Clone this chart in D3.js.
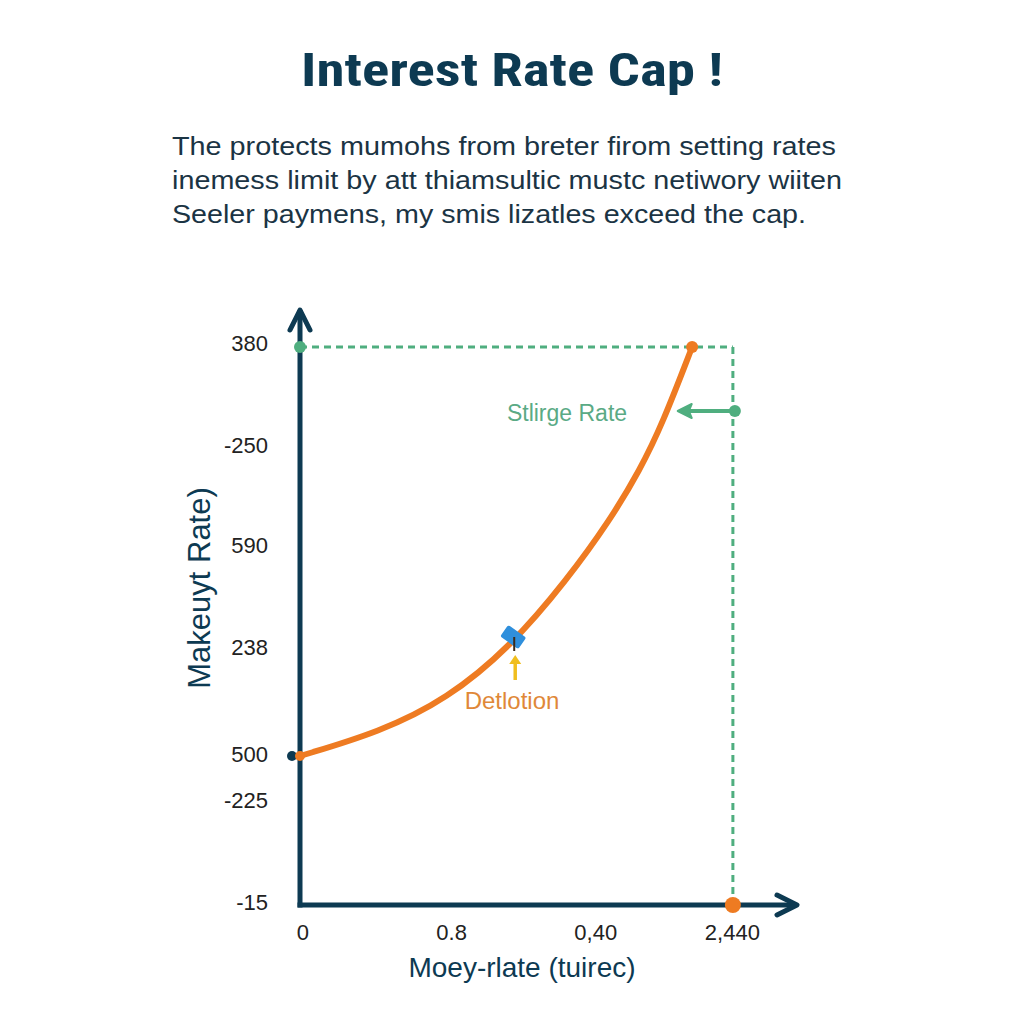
<!DOCTYPE html>
<html>
<head>
<meta charset="utf-8">
<script src="https://cdn.jsdelivr.net/npm/d3@7"></script>
<style>
  html, body { margin: 0; padding: 0; background: #ffffff; }
  svg { display: block; }
</style>
</head>
<body>
<svg id="chart" width="1024" height="1024"></svg>
<script>
// ---------------- data ----------------
const titleText = "Interest Rate Cap !";
const subtitleLines = [
  "The protects mumohs from breter firom setting rates",
  "inemess limit by att thiamsultic mustc netiwory wiiten",
  "Seeler paymens, my smis lizatles exceed the cap."
];
const yAxisTitle = "Makeuyt Rate)";
const xAxisTitle = "Moey-rlate (tuirec)";

// tick labels and where they sit on the (unitless) axes
const yTickLabels = ["380", "-250", "590", "238", "500", "-225", "-15"];
const yTickPos    = [5.62, 4.6, 3.6, 2.58, 1.51, 1.05, 0.03];
const xTickLabels = ["0", "0.8", "0,40", "2,440"];
const xTickPos    = [0.06, 3.05, 5.95, 8.7];

// orange rate curve
const curveX = [0, 1.61, 2.96, 4.23, 5.37, 6.24, 6.84, 7.30, 7.89];
const curveY = [1.49, 1.73, 2.06, 2.58, 3.25, 3.85, 4.35, 4.82, 5.58];

// cap level and cap x position
const capY = 5.58;
const capX = 8.71;
const strikeArrowY = 4.94;
const strikeArrowFromX = 8.75;
const strikeArrowToX = 7.6;
const markerX = 4.29, markerY = 2.68;

// ---------------- layout ----------------
const svg = d3.select("#chart");
const navy = "#0d3a52";
const orange = "#ee7b22";
const green = "#4fae7f";
const bodyFont = "'Liberation Sans', Arial, sans-serif";

const x = d3.scaleLinear().domain([0, 10]).range([300, 797]);
const y = d3.scaleLinear().domain([0, 5.97]).range([905, 308]);

// title
svg.append("text")
  .attr("x", 512).attr("y", 86)
  .attr("text-anchor", "middle")
  .attr("font-family", "'Liberation Sans Narrow', 'Roboto Condensed', 'Liberation Sans', Arial, sans-serif")
  .attr("font-weight", "bold")
  .attr("font-size", 46)
  .attr("fill", navy)
  .attr("textLength", 422)
  .attr("lengthAdjust", "spacingAndGlyphs")
  .text(titleText);

// subtitle
const subWidths = [664, 670, 634];
svg.selectAll("text.sub").data(subtitleLines).join("text")
  .attr("class", "sub")
  .attr("x", 172)
  .attr("y", (d, i) => 155 + i * 34)
  .attr("font-family", bodyFont)
  .attr("font-size", 26)
  .attr("fill", "#1b3444")
  .attr("textLength", (d, i) => subWidths[i])
  .attr("lengthAdjust", "spacingAndGlyphs")
  .text(d => d);

// green cap dashed lines
svg.append("line")
  .attr("x1", x(0)).attr("y1", y(capY))
  .attr("x2", x(capX)).attr("y2", y(capY))
  .attr("stroke", green).attr("stroke-width", 3)
  .attr("stroke-dasharray", "7,5");
svg.append("line")
  .attr("x1", x(capX)).attr("y1", y(capY))
  .attr("x2", x(capX)).attr("y2", y(0))
  .attr("stroke", green).attr("stroke-width", 3)
  .attr("stroke-dasharray", "7,5");

// axes lines
svg.append("line")
  .attr("x1", x(0)).attr("y1", y(0) + 2.5)
  .attr("x2", x(0)).attr("y2", y(5.95))
  .attr("stroke", navy).attr("stroke-width", 5);
svg.append("line")
  .attr("x1", x(0) - 2.5).attr("y1", y(0))
  .attr("x2", x(9.95)).attr("y2", y(0))
  .attr("stroke", navy).attr("stroke-width", 5);
// arrowheads
svg.append("path")
  .attr("d", `M${x(0) - 10},${y(5.97) + 22} L${x(0)},${y(5.97) + 2} L${x(0) + 10},${y(5.97) + 22}`)
  .attr("fill", "none").attr("stroke", navy).attr("stroke-width", 5)
  .attr("stroke-linecap", "round").attr("stroke-linejoin", "round");
svg.append("path")
  .attr("d", `M${x(10) - 20},${y(0) - 10} L${x(10)},${y(0)} L${x(10) - 20},${y(0) + 10}`)
  .attr("fill", "none").attr("stroke", navy).attr("stroke-width", 5)
  .attr("stroke-linecap", "round").attr("stroke-linejoin", "round");

// y tick labels
svg.selectAll("text.ytick").data(yTickLabels).join("text")
  .attr("class", "ytick")
  .attr("x", 268)
  .attr("y", (d, i) => y(yTickPos[i]))
  .attr("dy", "0.35em")
  .attr("text-anchor", "end")
  .attr("font-family", bodyFont)
  .attr("font-size", 22)
  .attr("fill", "#222")
  .text(d => d);

// x tick labels
svg.selectAll("text.xtick").data(xTickLabels).join("text")
  .attr("class", "xtick")
  .attr("x", (d, i) => x(xTickPos[i]))
  .attr("y", 940)
  .attr("text-anchor", "middle")
  .attr("font-family", bodyFont)
  .attr("font-size", 22)
  .attr("fill", "#222")
  .text(d => d);

// axis titles
svg.append("text")
  .attr("transform", `translate(210,588) rotate(-90)`)
  .attr("text-anchor", "middle")
  .attr("font-family", bodyFont)
  .attr("font-size", 31)
  .attr("fill", navy)
  .text(yAxisTitle);
svg.append("text")
  .attr("x", 522).attr("y", 977)
  .attr("text-anchor", "middle")
  .attr("font-family", bodyFont)
  .attr("font-size", 28)
  .attr("fill", navy)
  .text(xAxisTitle);

// curve
const pts = curveX.map((v, i) => [v, curveY[i]]);
svg.append("path")
  .datum(pts)
  .attr("d", d3.line().x(d => x(d[0])).y(d => y(d[1])).curve(d3.curveBasis))
  .attr("fill", "none")
  .attr("stroke", orange)
  .attr("stroke-width", 6)
  .attr("stroke-linecap", "round");

// dots
svg.append("circle").attr("cx", x(0) - 8).attr("cy", y(curveY[0])).attr("r", 5).attr("fill", navy);
svg.append("circle").attr("cx", x(0)).attr("cy", y(curveY[0])).attr("r", 5).attr("fill", orange);
svg.append("circle").attr("cx", x(0)).attr("cy", y(capY)).attr("r", 6).attr("fill", green);
svg.append("circle").attr("cx", x(curveX[curveX.length - 1])).attr("cy", y(curveY[curveY.length - 1])).attr("r", 6).attr("fill", orange);
svg.append("circle").attr("cx", x(capX)).attr("cy", y(0)).attr("r", 8).attr("fill", orange);

// strike rate arrow
svg.append("line")
  .attr("x1", x(strikeArrowFromX)).attr("y1", y(strikeArrowY))
  .attr("x2", x(strikeArrowToX) + 6).attr("y2", y(strikeArrowY))
  .attr("stroke", green).attr("stroke-width", 4);
svg.append("path")
  .attr("d", `M${x(strikeArrowToX)},${y(strikeArrowY)} l14,-7 l-3,7 l3,7 z`)
  .attr("fill", green).attr("stroke", green).attr("stroke-width", 2).attr("stroke-linejoin", "round");
svg.append("circle").attr("cx", x(strikeArrowFromX)).attr("cy", y(strikeArrowY)).attr("r", 6).attr("fill", green);
svg.append("text")
  .attr("x", 567).attr("y", 421)
  .attr("text-anchor", "middle")
  .attr("font-family", bodyFont)
  .attr("font-size", 23)
  .attr("fill", "#5aaa85")
  .text("Stlirge Rate");

// marker on curve
const mx = x(markerX), my = y(markerY);
svg.append("rect")
  .attr("x", mx - 11).attr("y", my - 7).attr("width", 22).attr("height", 14)
  .attr("rx", 2)
  .attr("transform", `rotate(35,${mx},${my})`)
  .attr("fill", "#2f8fdc");
svg.append("line")
  .attr("x1", mx + 1).attr("y1", my).attr("x2", mx + 1).attr("y2", my + 14)
  .attr("stroke", "#3a2a1a").attr("stroke-width", 2);
svg.append("line")
  .attr("x1", mx + 2).attr("y1", my + 43).attr("x2", mx + 2).attr("y2", my + 25)
  .attr("stroke", "#f0be1e").attr("stroke-width", 3.5);
svg.append("path")
  .attr("d", `M${mx + 2},${my + 18} l-6,9 l12,0 z`)
  .attr("fill", "#f0be1e");
svg.append("text")
  .attr("x", 512).attr("y", 709)
  .attr("text-anchor", "middle")
  .attr("font-family", bodyFont)
  .attr("font-size", 24)
  .attr("fill", "#e08838")
  .text("Detlotion");
</script>
</body>
</html>
